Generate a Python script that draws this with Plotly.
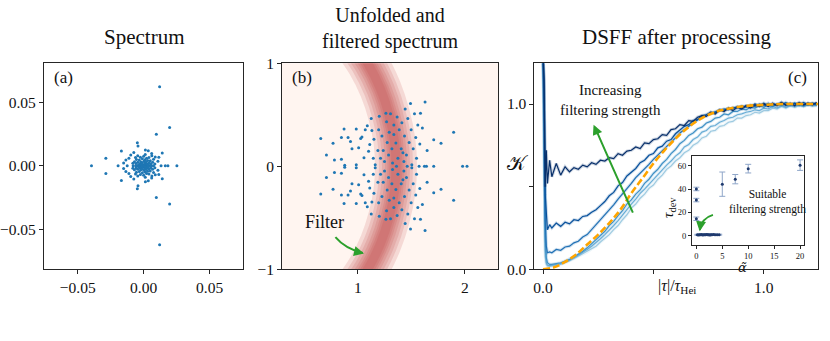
import plotly.graph_objects as go

# ---- panel (a): raw complex spectrum ----
spec_re = [0.0121, 0.0121, 0.0197, 0.0197, 0.0096, 0.0096, -0.0396, 0.0252, -0.0287, -0.0287,
           -0.0169, -0.0169, -0.0048, -0.0048, -0.0043, -0.0043, 0.0141, 0.0141, -0.0194, 0.0164,
           0.0184, 0.0013, 0.0013, -0.0152, -0.0152, 0.0061, 0.0061, 0.0088, 0.0088, -0.0112,
           -0.0112, 0.0108, 0.0108, -0.0098, -0.0098, 0.0132, -0.0125, 0.0035, 0.0035, -0.0075,
           -0.0075, 0.0115, 0.0115, -0.0135, -0.0135,
           0.0, 0.001, -0.001, 0.002, -0.002, 0.003, -0.003, 0.0045, -0.0045, 0.006, -0.006, -0.008, 0.0075,
           0.0005, 0.0005, -0.0007, -0.0007, 0.0015, 0.0015, -0.0018, -0.0018, 0.0025, 0.0025,
           -0.0028, -0.0028, 0.0008, 0.0008, -0.0012, -0.0012, 0.0035, 0.0035, -0.0038, -0.0038,
           0.0020, 0.0020, -0.0022, -0.0022, 0.0002, 0.0002, 0.0042, 0.0042, -0.0045, -0.0045,
           0.0030, 0.0030, -0.0033, -0.0033, 0.0010, 0.0010, -0.0010, -0.0010, 0.0055, 0.0055,
           -0.0058, -0.0058, 0.0050, 0.0050, -0.0055, -0.0055, 0.0022, 0.0022, -0.0025, -0.0025,
           0.0068, 0.0068, -0.0070, -0.0070, 0.0040, 0.0040, 0.0075, 0.0075, -0.0082, -0.0082,
           0.0085, 0.0085, 0.0000, 0.0000, 0.0012, 0.0012, -0.0045, -0.0045, -0.0062, -0.0062,
           0.0062, 0.0062]
spec_im = [0.0623, -0.0623, 0.0302, -0.0302, 0.0250, -0.0250, 0.0, 0.0, 0.0060, -0.0060,
           0.0116, -0.0116, 0.0181, -0.0181, 0.0157, -0.0157, 0.0102, -0.0102, 0.0, 0.0,
           0.0, 0.0125, -0.0125, 0.0022, -0.0022, 0.0097, -0.0097, 0.0070, -0.0070, 0.0060,
           -0.0060, 0.0035, -0.0035, 0.0085, -0.0085, 0.0, 0.0, 0.0118, -0.0118, 0.0105,
           -0.0105, 0.0068, -0.0068, 0.0045, -0.0045,
           0.0, 0.0, 0.0, 0.0, 0.0, 0.0, 0.0, 0.0, 0.0, 0.0, 0.0, 0.0, 0.0,
           0.0008, -0.0008, 0.0009, -0.0009, 0.0012, -0.0012, 0.0011, -0.0011, 0.0015, -0.0015,
           0.0017, -0.0017, 0.0022, -0.0022, 0.0024, -0.0024, 0.0008, -0.0008, 0.0009, -0.0009,
           0.0030, -0.0030, 0.0032, -0.0032, 0.0035, -0.0035, 0.0025, -0.0025, 0.0028, -0.0028,
           0.0042, -0.0042, 0.0045, -0.0045, 0.0048, -0.0048, 0.0055, -0.0055, 0.0015, -0.0015,
           0.0018, -0.0018, 0.0040, -0.0040, 0.0050, -0.0050, 0.0060, -0.0060, 0.0068, -0.0068,
           0.0028, -0.0028, 0.0032, -0.0032, 0.0065, -0.0065, 0.0052, -0.0052, 0.0020, -0.0020,
           0.0015, -0.0015, 0.0075, -0.0075, 0.0090, -0.0090, 0.0080, -0.0080, 0.0065, -0.0065,
           0.0080, -0.0080]

# ---- panel (b): unfolded spectrum (upper half, mirrored below) ----
unf_x_half = [0.705, 0.767, 0.845, 0.845, 0.870, 0.876, 0.907, 0.944, 0.984, 0.984, 1.006, 1.025,
              1.037, 1.056, 1.068, 1.087, 1.099, 1.124, 1.130, 1.143, 1.149, 1.161, 1.186, 1.193,
              1.199, 1.211, 1.224, 1.236, 1.248, 1.261, 1.267, 1.273, 1.286, 1.292, 1.304, 1.317,
              1.323, 1.335, 1.335, 1.354, 1.366, 1.373, 1.385, 1.404, 1.410, 1.429, 1.435, 1.441,
              1.453, 1.466, 1.478, 1.491, 1.497, 1.503, 1.516, 1.528, 1.540, 1.547, 1.559, 1.578,
              1.584, 1.602, 1.627, 1.646, 1.708, 1.776, 1.894, 0.652, 0.780, 0.930, 1.110, 1.420]
unf_y_half = [0.108, 0.222, 0.278, 0.068, 0.361, 0.010, 0.278, 0.170, 0.361, 0.015, 0.179, 0.269,
              0.284, 0.083, 0.355, 0.392, 0.145, 0.463, 0.346, 0.077, 0.262, 0.015, 0.154, 0.355,
              0.485, 0.077, 0.293, 0.154, 0.046, 0.515, 0.432, 0.231, 0.108, 0.330, 0.509, 0.170,
              0.031, 0.401, 0.309, 0.225, 0.478, 0.077, 0.355, 0.170, 0.423, 0.046, 0.293, 0.556,
              0.108, 0.463, 0.231, 0.608, 0.355, 0.015, 0.170, 0.509, 0.278, 0.077, 0.401, 0.216,
              0.515, 0.370, 0.623, 0.154, 0.256, 0.222, 0.330, 0.269, 0.060, 0.240, 0.210, 0.130]
unf_x_axis = [1.571, 1.621, 1.640, 1.708, 1.978, 2.019, 1.360, 1.460]
unf_y_axis = [0.0, 0.0, 0.0, 0.0, 0.0, 0.0, 0.0, 0.0]

# filter band centre line
band_y = [-1.25, -1.0, -0.75, -0.5, -0.25, 0.0, 0.25, 0.5, 0.75, 1.0, 1.25]
band_x = [0.92, 1.09, 1.21, 1.29, 1.34, 1.355, 1.34, 1.29, 1.21, 1.09, 0.92]

# ---- panel (c): DSFF curves ----
tau = [0, 0.005, 0.01, 0.015, 0.02, 0.03,
       0.04, 0.06, 0.08, 0.10, 0.12, 0.14, 0.16, 0.18, 0.20, 0.22, 0.24, 0.26, 0.28, 0.30,
       0.32, 0.34, 0.36, 0.38, 0.40, 0.42, 0.44, 0.46, 0.48, 0.50, 0.52, 0.54, 0.56, 0.58,
       0.60, 0.62, 0.64, 0.66, 0.68, 0.70, 0.72, 0.74, 0.76, 0.78, 0.80, 0.82, 0.84, 0.86,
       0.88, 0.90, 0.92, 0.94, 0.96, 0.98, 1.00, 1.02, 1.04, 1.06, 1.08, 1.10, 1.12, 1.14,
       1.16, 1.18, 1.20, 1.22, 1.24]
dsff_1 = [1.3, 1.15, 0.5, 0.72, 0.52, 0.66,
          0.56, 0.64, 0.57, 0.62, 0.59, 0.615, 0.605, 0.63, 0.62, 0.645, 0.635, 0.66, 0.655, 0.675,
          0.67, 0.70, 0.69, 0.715, 0.72, 0.74, 0.73, 0.765, 0.76, 0.785, 0.79, 0.815, 0.81, 0.845,
          0.85, 0.875, 0.87, 0.90, 0.895, 0.92, 0.93, 0.925, 0.95, 0.94, 0.965, 0.955, 0.975, 0.96,
          0.98, 0.97, 0.99, 0.975, 0.995, 0.985, 1.0, 0.985, 1.005, 0.99, 1.01, 0.995, 1.005, 0.99,
          1.01, 0.995, 1.005, 0.995, 1.01]
dsff_2 = [1.3, 1.1, 0.45, 0.3, 0.24, 0.27,
          0.25, 0.28, 0.26, 0.285, 0.275, 0.30, 0.295, 0.32, 0.325, 0.345, 0.36, 0.385, 0.41, 0.445,
          0.465, 0.505, 0.525, 0.565, 0.59, 0.61, 0.645, 0.66, 0.69, 0.70, 0.735, 0.745, 0.775, 0.785,
          0.82, 0.84, 0.865, 0.875, 0.90, 0.905, 0.93, 0.935, 0.95, 0.945, 0.965, 0.96, 0.975, 0.97,
          0.985, 0.975, 0.99, 0.985, 1.0, 0.99, 1.005, 0.99, 1.0, 0.995, 1.01, 0.99, 1.0, 1.005,
          0.995, 1.01, 0.995, 1.005, 1.0]
dsff_3 = [1.3, 1.0, 0.3, 0.14, 0.10, 0.105,
          0.10, 0.12, 0.115, 0.135, 0.14, 0.16, 0.17, 0.195, 0.21, 0.24, 0.265, 0.295, 0.325, 0.36,
          0.39, 0.425, 0.455, 0.49, 0.52, 0.555, 0.58, 0.61, 0.635, 0.665, 0.69, 0.72, 0.74, 0.77,
          0.795, 0.825, 0.845, 0.87, 0.885, 0.905, 0.915, 0.935, 0.94, 0.955, 0.96, 0.97, 0.965, 0.98,
          0.975, 0.99, 0.98, 0.995, 0.985, 1.0, 0.99, 1.005, 0.99, 1.0, 0.995, 1.01, 0.995, 1.0,
          1.005, 0.99, 1.005, 1.0, 0.995]
dsff_4 = [1.3, 0.9, 0.2, 0.07, 0.04, 0.03,
          0.03, 0.035, 0.04, 0.05, 0.06, 0.075, 0.09, 0.11, 0.13, 0.155, 0.18, 0.205, 0.23, 0.265,
          0.29, 0.325, 0.355, 0.395, 0.42, 0.455, 0.48, 0.52, 0.545, 0.58, 0.605, 0.64, 0.665, 0.70,
          0.725, 0.76, 0.78, 0.81, 0.825, 0.85, 0.86, 0.885, 0.895, 0.915, 0.92, 0.94, 0.935, 0.955,
          0.955, 0.97, 0.965, 0.98, 0.975, 0.99, 0.98, 0.995, 0.985, 1.0, 0.99, 1.0, 0.995, 1.005,
          0.99, 1.0, 0.995, 1.005, 0.995]
dsff_5 = [1.3, 0.8, 0.12, 0.04, 0.025, 0.022,
          0.025, 0.028, 0.035, 0.045, 0.055, 0.07, 0.085, 0.10, 0.12, 0.14, 0.16, 0.185, 0.21, 0.235,
          0.265, 0.295, 0.33, 0.36, 0.395, 0.425, 0.46, 0.485, 0.515, 0.54, 0.57, 0.60, 0.63, 0.655,
          0.685, 0.705, 0.74, 0.755, 0.785, 0.80, 0.83, 0.84, 0.865, 0.87, 0.89, 0.90, 0.915, 0.92,
          0.935, 0.94, 0.95, 0.955, 0.965, 0.96, 0.975, 0.97, 0.985, 0.975, 0.99, 0.98, 0.99, 0.985,
          0.995, 0.985, 0.995, 0.99, 0.995]
dsff_6 = [1.3, 0.7, 0.08, 0.03, 0.02, 0.018,
          0.02, 0.025, 0.03, 0.04, 0.05, 0.065, 0.08, 0.09, 0.105, 0.125, 0.14, 0.165, 0.185, 0.21,
          0.24, 0.265, 0.30, 0.33, 0.37, 0.395, 0.43, 0.455, 0.49, 0.51, 0.545, 0.57, 0.605, 0.625,
          0.655, 0.675, 0.705, 0.72, 0.75, 0.765, 0.795, 0.805, 0.835, 0.84, 0.865, 0.87, 0.89, 0.895,
          0.915, 0.915, 0.93, 0.935, 0.95, 0.945, 0.96, 0.96, 0.975, 0.97, 0.985, 0.975, 0.99, 0.98,
          0.99, 0.985, 0.995, 0.985, 0.99]
dsff_all = [dsff_1, dsff_2, dsff_3, dsff_4, dsff_5, dsff_6]
dsff_colors = ["#08306b", "#08519c", "#2171b5", "#4292c6", "#6baed6", "#9ecae1"]

tau_theory = [0, 0.05, 0.1, 0.15, 0.2, 0.25, 0.3, 0.35, 0.4, 0.45, 0.5, 0.55, 0.6, 0.65,
              0.7, 0.75, 0.8, 0.9, 1.0, 1.1, 1.25]
K_theory = [0, 0.012, 0.045, 0.09, 0.15, 0.21, 0.28, 0.36, 0.46, 0.55, 0.64, 0.72, 0.79, 0.85,
            0.90, 0.935, 0.96, 0.985, 0.995, 1.0, 1.0]

# ---- inset: deviation time vs filter strength ----
alpha_t = [0, 0, 0, 0.2, 0.4, 0.6, 0.8, 1.0, 1.2, 1.4, 1.6, 1.8, 2.0, 2.2, 2.4, 2.6, 2.8,
           3.0, 3.3, 3.6, 4.0, 4.4, 5, 7.5, 10, 20]
tau_dev = [40.1, 30.6, 14.6, 0.9, 0.8, 1.0, 0.9, 1.1, 0.8, 1.0, 0.9, 1.0, 1.1, 0.9, 1.0, 0.8,
           1.0, 0.9, 1.1, 1.0, 0.9, 1.0, 44.2, 48.5, 57.5, 60.5]
tau_dev_err = [1.5, 1.5, 1.5, 0.4, 0.4, 0.4, 0.4, 0.4, 0.4, 0.4, 0.4, 0.4, 0.4, 0.4, 0.4, 0.4,
               0.4, 0.4, 0.4, 0.4, 0.4, 0.4, 10.4, 4.0, 3.7, 4.5]

SERIF = "Liberation Serif"
AX = "#262626"
GREEN = "#2ca02c"

fig = go.Figure()

fig.add_trace(go.Scatter(x=spec_re, y=spec_im, mode="markers", xaxis="x", yaxis="y",
                         marker=dict(size=3, color="#1f77b4")))

# filter band: stacked translucent strokes along the read centre line
for w in [42, 34, 28, 22, 17, 13, 9]:
    fig.add_trace(go.Scatter(x=band_x, y=band_y, mode="lines", xaxis="x2", yaxis="y2",
                             line=dict(color="rgba(185,60,60,0.15)", width=w, shape="spline")))
unf_x = unf_x_half + unf_x_half + unf_x_axis
unf_y = unf_y_half + [-v for v in unf_y_half] + unf_y_axis
fig.add_trace(go.Scatter(x=unf_x, y=unf_y, mode="markers", xaxis="x2", yaxis="y2",
                         marker=dict(size=3, color="#1f77b4")))

for vals, col in zip(dsff_all[::-1], dsff_colors[::-1]):
    fig.add_trace(go.Scatter(x=tau, y=vals, mode="lines", xaxis="x3", yaxis="y3",
                             line=dict(color=col, width=3.2), opacity=0.2))
    fig.add_trace(go.Scatter(x=tau, y=vals, mode="lines", xaxis="x3", yaxis="y3",
                             line=dict(color=col, width=1.2)))
fig.add_trace(go.Scatter(x=tau_theory, y=K_theory, mode="lines", xaxis="x3", yaxis="y3",
                         line=dict(color="orange", width=2.6, dash="7px,3px", shape="spline")))

fig.add_trace(go.Scatter(x=alpha_t, y=tau_dev, mode="markers", xaxis="x4", yaxis="y4",
                         marker=dict(size=3, color="#1f3a6e"),
                         error_y=dict(type="data", array=tau_dev_err, color="#8fa6c9",
                                      thickness=1, width=3)))

axis_common = dict(showline=True, mirror=True, linecolor=AX, linewidth=1, ticks="outside",
                   ticklen=4, tickcolor=AX, tickwidth=1, showgrid=False, zeroline=False,
                   tickfont=dict(family=SERIF, size=15.5, color="#111"))
small = dict(axis_common, ticklen=3, tickfont=dict(family=SERIF, size=8.5, color="#111"))

fig.update_layout(
    width=830, height=341, margin=dict(l=0, r=0, t=0, b=0),
    paper_bgcolor="white", plot_bgcolor="white", showlegend=False,
    xaxis=dict(axis_common, domain=[0.0506, 0.2916], range=[-0.0757, 0.0757], anchor="y",
               tickvals=[-0.05, 0, 0.05], ticktext=["−0.05", "0.00", "0.05"]),
    yaxis=dict(axis_common, domain=[0.1965, 0.8328], range=[-0.0817, 0.081], anchor="x",
               tickvals=[-0.05, 0, 0.05], ticktext=["−0.05", "0.00", "0.05"]),
    xaxis2=dict(axis_common, domain=[0.3382, 0.5992], range=[0.29, 2.31], anchor="y2",
                tickvals=[1, 2], ticktext=["1", "2"]),
    yaxis2=dict(axis_common, domain=[0.1965, 0.8328], range=[-1, 1], anchor="x2",
                tickvals=[-1, 0, 1], ticktext=["−1", "0", "1"]),
    xaxis3=dict(axis_common, domain=[0.643, 0.9859], range=[-0.039, 1.247], anchor="y3",
                tickvals=[0, 0.5, 1], ticktext=["0.0", "", "1.0"]),
    yaxis3=dict(axis_common, domain=[0.1965, 0.8328], range=[0, 1.247], anchor="x3",
                tickvals=[0, 0.5, 1], ticktext=["0.0", "", "1.0"]),
    xaxis4=dict(small, domain=[0.8334, 0.9687], range=[-0.83, 20.77], anchor="y4",
                tickvals=[0, 5, 10, 15, 20]),
    yaxis4=dict(small, domain=[0.2718, 0.5455], range=[-7.8, 68.1], anchor="x4",
                tickvals=[0, 20, 40, 60]),
)

fig.add_shape(type="rect", xref="x2 domain", yref="y2 domain", x0=0, x1=1, y0=0, y1=1,
              fillcolor="#fff5f0", line=dict(width=0), layer="below")
fig.add_shape(type="rect", xref="x4 domain", yref="y4 domain", x0=0, x1=1, y0=0, y1=1,
              fillcolor="white", line=dict(width=0), layer="below")

# green arrows (curved shafts + heads)
fig.add_shape(type="path", xref="x3", yref="y3", path="M 0.407,0.343 Q 0.30,0.66 0.235,0.86",
              line=dict(color=GREEN, width=2))
fig.add_annotation(xref="x3", yref="y3", axref="x3", ayref="y3", x=0.229, y=0.875,
                   ax=0.25, ay=0.81, text="", showarrow=True, arrowhead=2, arrowsize=1,
                   arrowwidth=2, arrowcolor=GREEN)
fig.add_shape(type="path", xref="x2", yref="y2", path="M 0.789,-0.688 Q 0.88,-0.80 1.045,-0.842",
              line=dict(color=GREEN, width=2))
fig.add_annotation(xref="x2", yref="y2", axref="x2", ayref="y2", x=1.056, y=-0.846,
                   ax=1.0, ay=-0.832, text="", showarrow=True, arrowhead=2, arrowsize=1,
                   arrowwidth=2, arrowcolor=GREEN)
fig.add_shape(type="path", xref="x4", yref="y4", path="M 3.2,17.9 Q 1.0,15 0.66,5",
              line=dict(color=GREEN, width=2))
fig.add_annotation(xref="x4", yref="y4", axref="x4", ayref="y4", x=0.63, y=3.9,
                   ax=0.75, ay=7.5, text="", showarrow=True, arrowhead=2, arrowsize=1,
                   arrowwidth=2, arrowcolor=GREEN)


def txt(x, y, s, size, family=SERIF, **kw):
    fig.add_annotation(xref="paper", yref="paper", x=x / 830, y=1 - y / 341, text=s,
                       showarrow=False, xanchor="center", yanchor="middle",
                       font=dict(family=family, size=size, color="#111"), **kw)


txt(142, 29, "Spectrum", 21)
txt(389, 20, "Unfolded and<br>filtered spectrum", 20)
txt(676, 29, "DSFF after processing", 21)
txt(61.7, 72, "(a)", 17)
txt(300.7, 72, "(b)", 17)
txt(797.7, 72, "(c)", 17)
txt(323.3, 224, "Filter", 18)
txt(609.7, 96, "Increasing<br>filtering strength", 15)
txt(767, 203, "Suitable<br>filtering strength", 11.5)
txt(516.7, 162, "𝒦", 20)
txt(676.7, 292, "|<i>τ</i>|/<i>τ</i><sub>Hei</sub>", 16)
txt(742.7, 272, "<i>α̃</i>", 13, family="DejaVu Serif")
txt(668, 209, "<i>τ</i><sub>dev</sub>", 15, textangle=-90)

fig.write_html("out.html", config={"displayModeBar": False},
               post_script="document.body.style.margin='0';")
